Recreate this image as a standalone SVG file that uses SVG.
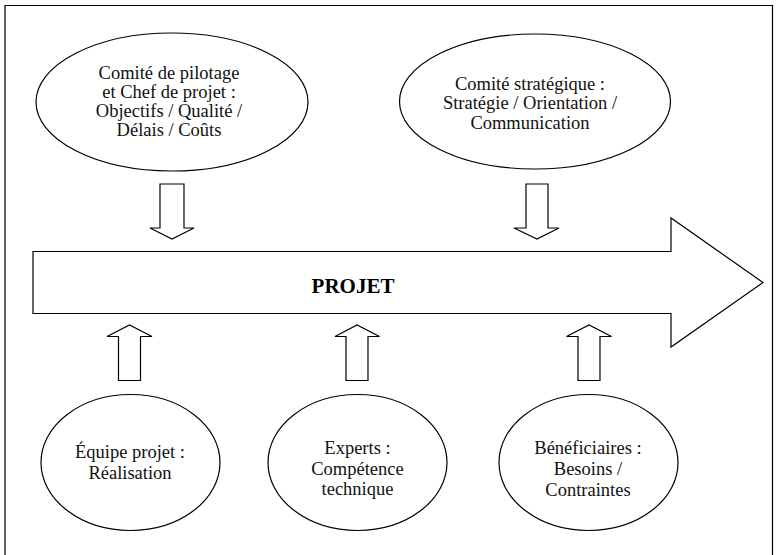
<svg xmlns="http://www.w3.org/2000/svg" width="779" height="555" viewBox="0 0 779 555">
<style>
.shape{fill:#fff;stroke:#000;stroke-width:1.2}
.t{font-family:"Liberation Serif","Times New Roman",serif;font-size:18.5px;fill:#111;text-anchor:middle}
.title{font-family:"Liberation Serif","Times New Roman",serif;font-size:21px;font-weight:bold;fill:#000;text-anchor:middle}
</style>
<rect width="779" height="555" fill="#fff"/>
<path d="M5,555 V5.5 H772.5 V555" fill="none" stroke="#000" stroke-width="1.2"/>
<g id="projet">
<polygon class="shape" points="33,251.5 671,251.5 671,218 763,282.5 671,347 671,313.5 33,313.5"/>
<text class="title" x="353" y="293">PROJET</text>
</g>
<g id="connectors">
<polygon class="shape" points="160,184 184,184 184,228 194,228 172,239 150,228 160,228"/>
<polygon class="shape" points="526,184 548,184 548,228 559,228 537,239 514,228 526,228"/>
<polygon class="shape" points="118.5,380.5 140.5,380.5 140.5,336.5 152,336.5 129.5,325 107,336.5 118.5,336.5"/>
<polygon class="shape" points="346,380.5 368,380.5 368,336.5 379.5,336.5 357,325 335,336.5 346,336.5"/>
<polygon class="shape" points="578,380.5 600,380.5 600,336.5 611.5,336.5 589,325 566.5,336.5 578,336.5"/>
</g>
<g id="comite-pilotage">
<ellipse class="shape" cx="172" cy="102" rx="136" ry="69"/>
<text class="t"><tspan x="169" y="79">Comité de pilotage</tspan><tspan x="169" y="98">et Chef de projet :</tspan><tspan x="169" y="117">Objectifs / Qualité /</tspan><tspan x="169" y="136">Délais / Coûts</tspan></text>
</g>
<g id="comite-strategique">
<ellipse class="shape" cx="535" cy="101.5" rx="135.5" ry="67.5"/>
<text class="t"><tspan x="530" y="89.5">Comité stratégique :</tspan><tspan x="530" y="109">Stratégie / Orientation /</tspan><tspan x="530" y="128.5">Communication</tspan></text>
</g>
<g id="equipe">
<ellipse class="shape" cx="130.5" cy="462.5" rx="89.5" ry="68"/>
<text class="t"><tspan x="130" y="457.5">Équipe projet :</tspan><tspan x="130" y="479">Réalisation</tspan></text>
</g>
<g id="experts">
<ellipse class="shape" cx="357.5" cy="462.5" rx="89.5" ry="68"/>
<text class="t"><tspan x="357.5" y="453.5">Experts :</tspan><tspan x="357.5" y="474.5">Compétence</tspan><tspan x="357.5" y="495">technique</tspan></text>
</g>
<g id="beneficiaires">
<ellipse class="shape" cx="588.5" cy="462.5" rx="89.5" ry="68"/>
<text class="t"><tspan x="588" y="453.5">Bénéficiaires :</tspan><tspan x="588" y="474.5">Besoins /</tspan><tspan x="588" y="495.5">Contraintes</tspan></text>
</g>
</svg>
